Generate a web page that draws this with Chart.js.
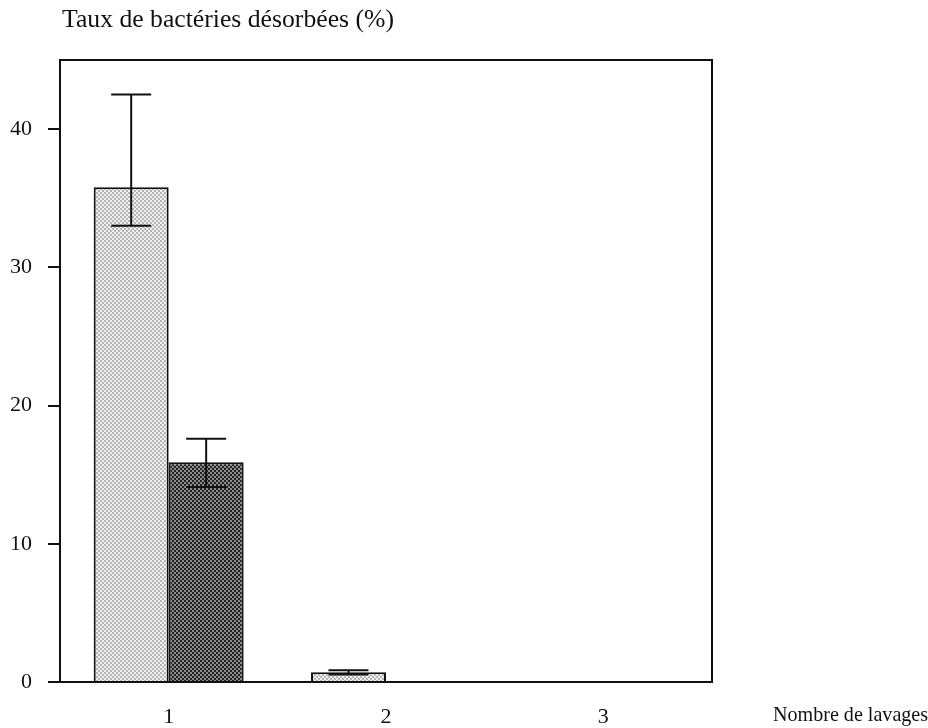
<!DOCTYPE html>
<html>
<head>
<meta charset="utf-8">
<script src="https://cdn.jsdelivr.net/npm/chart.js@4.4.1/dist/chart.umd.min.js"></script>
<style>
  html, body { margin: 0; padding: 0; background: #fff; }
  #wrap { width: 928px; height: 728px; }
</style>
</head>
<body>
<div id="wrap"><canvas id="lavages"></canvas></div>
<script>
// Données
const lavages = ['1', '2', '3'];
const serieA = [35.8, 0.7, 0];
const serieAHaut = [42.5, 0.85, null];
const serieABas = [33.0, 0.55, null];
const serieB = [15.9, 0, 0];
const serieBHaut = [17.6, null, null];
const serieBBas = [14.1, null, null];
const yTicks = [0, 10, 20, 30, 40];

const policeSerif = '"Liberation Serif", "DejaVu Serif", serif';

// Trame pointillée pour imiter les hachures de l'original
function trame(fond, point) {
  const c = document.createElement('canvas');
  c.width = 4; c.height = 4;
  const g = c.getContext('2d');
  g.fillStyle = fond;
  g.fillRect(0, 0, 4, 4);
  g.fillStyle = point;
  g.fillRect(0, 0, 2, 2);
  g.fillRect(2, 2, 2, 2);
  return g.createPattern(c, 'repeat');
}

// Ajuste la taille de police pour occuper une largeur donnée
function texteAjuste(ctx, texte, largeur, x, y) {
  ctx.font = '20px ' + policeSerif;
  const taille = 20 * largeur / ctx.measureText(texte).width;
  ctx.font = taille.toFixed(1) + 'px ' + policeSerif;
  ctx.fillText(texte, x, y);
}

const barresErreur = {
  id: 'barresErreur',
  afterDatasetsDraw(chart) {
    const ctx = chart.ctx;
    const y = chart.scales.y;
    const bornes = [[serieAHaut, serieABas], [serieBHaut, serieBBas]];
    ctx.save();
    ctx.strokeStyle = '#111';
    ctx.lineWidth = 2;
    chart.data.datasets.forEach((ds, i) => {
      const meta = chart.getDatasetMeta(i);
      meta.data.forEach((bar, j) => {
        const haut = bornes[i][0][j];
        const bas = bornes[i][1][j];
        if (haut == null) return;
        const yh = y.getPixelForValue(haut);
        const yb = y.getPixelForValue(bas);
        ctx.beginPath();
        ctx.moveTo(bar.x, yh);
        ctx.lineTo(bar.x, yb);
        ctx.moveTo(bar.x - 20, yh);
        ctx.lineTo(bar.x + 20, yh);
        ctx.moveTo(bar.x - 20, yb);
        ctx.lineTo(bar.x + 20, yb);
        ctx.stroke();
      });
    });
    ctx.restore();
  }
};

const cadreEtTitres = {
  id: 'cadreEtTitres',
  afterDraw(chart) {
    const ctx = chart.ctx;
    const a = chart.chartArea;
    ctx.save();
    ctx.strokeStyle = '#111';
    ctx.lineWidth = 2;
    ctx.strokeRect(a.left, a.top, a.right - a.left, a.bottom - a.top);
    ctx.fillStyle = '#111';
    ctx.textBaseline = 'alphabetic';
    ctx.textAlign = 'left';
    texteAjuste(ctx, 'Taux de bactéries désorbées (%)', 332, a.left + 2, 27);
    texteAjuste(ctx, 'Nombre de lavages', 155, a.right + 61, 721);
    ctx.restore();
  }
};

document.addEventListener('DOMContentLoaded', function() {
  const ctx = document.getElementById('lavages').getContext('2d');
  new Chart(ctx, {
    type: 'bar',
    data: {
      labels: lavages,
      datasets: [{
        label: 'A',
        data: serieA,
        backgroundColor: trame('#f2f2f2', '#b4b4b4'),
        borderColor: '#111',
        borderWidth: 2,
        borderSkipped: 'bottom'
      }, {
        label: 'B',
        data: serieB,
        backgroundColor: trame('#8c8c8c', '#222'),
        borderColor: '#111',
        borderWidth: 2,
        borderSkipped: 'bottom'
      }]
    },
    options: {
      responsive: true,
      maintainAspectRatio: false,
      animation: false,
      categoryPercentage: 0.69,
      barPercentage: 1.0,
      layout: { padding: { left: 0, right: 216, top: 60, bottom: 0 } },
      plugins: {
        legend: { display: false },
        tooltip: { enabled: false }
      },
      scales: {
        x: {
          grid: { display: false },
          border: { display: false },
          ticks: { color: '#111', font: { family: policeSerif, size: 22 }, padding: 14 },
          afterFit: s => { s.height = 46; }
        },
        y: {
          min: 0,
          max: 45,
          afterBuildTicks: s => { s.ticks = yTicks.map(v => ({ value: v })); },
          grid: { drawOnChartArea: false, drawTicks: true, tickLength: 12, color: '#111', lineWidth: 2 },
          border: { display: false },
          ticks: { color: '#111', font: { family: policeSerif, size: 22 }, padding: 16 },
          afterFit: s => { s.width = 60; }
        }
      }
    },
    plugins: [barresErreur, cadreEtTitres]
  });
});
</script>
</body>
</html>
